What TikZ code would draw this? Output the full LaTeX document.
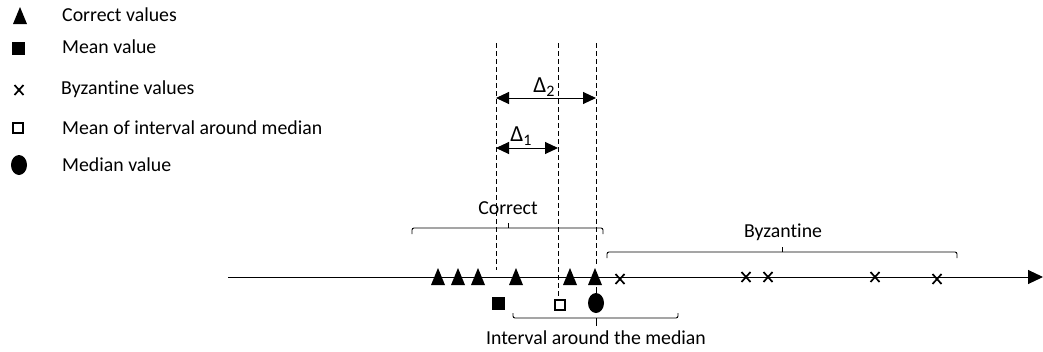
\documentclass[tikz,border=0pt]{standalone}
\usepackage{fontspec}
\setmainfont{Carlito}[Ligatures=NoCommon]
\usetikzlibrary{arrows.meta}
\newcommand{\dsub}[1]{\raisebox{-0.35ex}{\fontsize{16}{16}\selectfont #1}}
\begin{document}
\begin{tikzpicture}[x=1pt,y=-1pt,
  lbl/.style={font=\fontsize{19.8}{22}\selectfont, inner sep=0pt},
  dlbl/.style={font=\fontsize{23}{25}\selectfont, inner sep=0pt},
  legtxt/.style={lbl, anchor=west},
  tri/.pic={\fill (-7,8) -- (7,8) -- (0,-9) -- cycle;},
  sq/.pic={\fill (-6.5,-6.5) rectangle (6.5,6.5);},
  osq/.pic={\draw[line width=2pt] (-5,-5) rectangle (5,5);},
  crs/.pic={\draw[line width=1.7pt] (-4.5,-5) -- (4.5,5) (-4.5,5) -- (4.5,-5);},
  blob/.pic={\fill (0,0) ellipse [x radius=8, y radius=10];},
  guide/.style={line width=0.9pt, dash pattern=on 5pt off 3pt},
  brace/.style={line width=0.9pt, rounded corners=2pt},
  dimarrow/.style={line width=1pt, {Triangle[length=13pt,width=12pt]}-{Triangle[length=13pt,width=12pt]}}
]
\useasboundingbox (0,0) rectangle (1043,351);
% legend
\pic at (20,16) {tri};
\node[legtxt] (l1) at (62,15) {Correct values};
\pic at (18,48) {sq};
\node[legtxt] (l2) at (62,47) {Mean value};
\pic at (19,90) {crs};
\node[legtxt] (l3) at (61,89) {Byzantine values};
\pic at (18,128) {osq};
\node[legtxt] (l4) at (62,128) {Mean of interval around median};
\pic at (19,165) {blob};
\node[legtxt] (l5) at (62,165) {Median value};
% axis
\coordinate (a0) at (228,277);
\coordinate (a1) at (1043,277);
\draw[line width=1pt, -{Triangle[length=15pt,width=14pt]}] (a0) -- (a1);
% correct values
\foreach \x in {438,458,478,516,570,595} \pic at (\x,277) {tri};
% byzantine values
\foreach \x/\y in {620/279,746/277,768/277,875/277,937/279} \pic at (\x,\y) {crs};
% mean, mean of interval, median
\pic at (498,303) {sq};
\pic at (560,305) {osq};
\pic at (596,303) {blob};
% dashed guides
\coordinate (d1t) at (496,43); \coordinate (d1b) at (496,270);
\coordinate (d2t) at (558,43); \coordinate (d2b) at (558,299);
\coordinate (d3t) at (596,43); \coordinate (d3b) at (596,264);
\draw[guide] (d1t) -- (d1b);
\draw[guide] (d2t) -- (d2b);
\draw[guide] (d3t) -- (d3b);
\coordinate (m1) at (596,287); \coordinate (m2) at (596,294);
\draw[line width=0.8pt] (m1) -- (m2);
% delta arrows
\coordinate (D2a) at (496,98); \coordinate (D2b) at (596,98);
\draw[dimarrow] (D2a) -- (D2b);
\node[dlbl] (D2) at (544,87) {Δ\dsub{2}};
\coordinate (D1a) at (496,148); \coordinate (D1b) at (558,148);
\draw[dimarrow] (D1a) -- (D1b);
\node[dlbl] (D1) at (521,136) {Δ\dsub{1}};
% correct brace
\draw[brace] (412,234) -- (412,228) -- (603,228) -- (603,234);
\draw[line width=0.9pt] (508,228) -- (508,223);
\node[lbl] (cor) at (508,208) {Correct};
% byzantine brace
\draw[brace] (607,258) -- (607,252) -- (957,252) -- (957,258);
\draw[line width=0.9pt] (782,252) -- (782,247);
\node[lbl] (byz) at (783,232) {Byzantine};
% interval brace
\draw[brace] (513,313) -- (513,318) -- (678,318) -- (678,313);
\draw[line width=0.9pt] (596,318) -- (596,326);
\node[lbl] (int) at (596,338) {Interval around the median};
\end{tikzpicture}
\end{document}
